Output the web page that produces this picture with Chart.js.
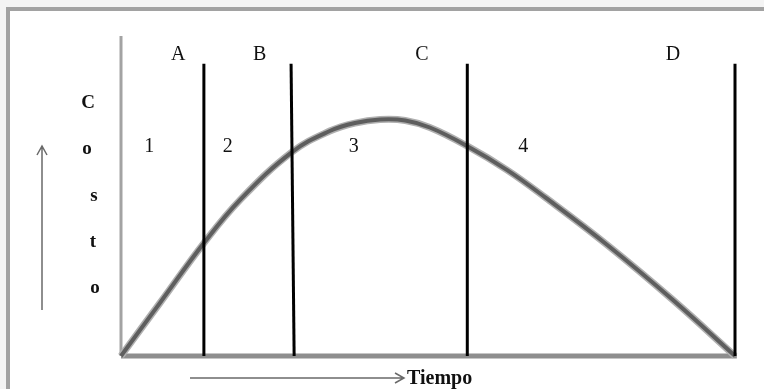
<!DOCTYPE html>
<html>
<head>
<meta charset="utf-8">
<script src="https://cdn.jsdelivr.net/npm/chart.js@4.4.1/dist/chart.umd.min.js"></script>
<style>
  html, body { margin: 0; padding: 0; background: #fff; }
  #grafico { display: block; }
</style>
</head>
<body>
<canvas id="grafico" width="764" height="389"></canvas>
<script>
// curva de costo vs tiempo
var tiempo = [0, 6.35, 13.5, 19.4, 27.9, 34.0, 38.1, 42.2, 46.3, 50.3, 56.2, 62.9, 69.2, 79.2, 89.9, 100];
var costo = [0, 16.6, 35.3, 48.8, 63.8, 70.3, 72.8, 73.9, 73.6, 71.4, 65.8, 58.1, 49.4, 34.7, 17.5, 0];

// lineas verticales que separan las etapas
var cortesAbajo = [13.5, 28.2, 56.4, 100];
var cortesArriba = [13.5, 27.7, 56.4, 100];
var alturaCorte = 91.3;

// letras de arriba y numeros de las etapas
var letras = ['A', 'B', 'C', 'D'];
var letrasX = [9.3, 22.6, 49.0, 89.9];
var letrasY = 94.1;
var etapas = ['1', '2', '3', '4'];
var etapasX = [4.6, 17.4, 37.9, 65.5];
var etapasY = 65.3;

// eje vertical escrito letra por letra
var tituloY = ['C', 'o', 's', 't', 'o'];
var tituloYPos = [79, 64.7, 50, 35.6, 21.3];
var tituloYx = [88, 87, 94, 93, 95];

var puntosCurva = tiempo.map(function (t, i) { return {x: t, y: costo[i]}; });

var datasets = [];
datasets.push({
    label: 'ejeY',
    data: [{x: 0, y: 0}, {x: 0, y: 100}],
    borderColor: '#a3a3a3',
    borderWidth: 3,
    order: 5
});
datasets.push({
    label: 'ejeX',
    data: [{x: 0, y: 0}, {x: 100.3, y: 0}],
    borderColor: '#8e8e8e',
    borderWidth: 5,
    order: 4
});
datasets.push({
    label: 'borde curva',
    data: puntosCurva,
    borderColor: '#b0b0b0',
    borderWidth: 7,
    tension: 0.4,
    order: 3
});
datasets.push({
    label: 'Costo',
    data: puntosCurva,
    borderColor: '#5e5e5e',
    borderWidth: 4,
    tension: 0.4,
    order: 2
});
for (var i = 0; i < cortesAbajo.length; i++) {
    datasets.push({
        label: 'corte ' + letras[i],
        data: [{x: cortesAbajo[i], y: 0}, {x: cortesArriba[i], y: alturaCorte}],
        borderColor: '#000',
        borderWidth: 3,
        order: 1
    });
}
datasets.forEach(function (d) {
    d.pointRadius = 0;
    d.fill = false;
    d.clip = false;
});

var textos = {
    id: 'textos',
    beforeDraw: function (chart) {
        var c = chart.ctx;
        c.save();
        c.fillStyle = '#f4f4f4';
        c.fillRect(0, 0, 764, 389);
        c.fillStyle = '#fff';
        c.fillRect(8, 9, 756, 380);
        c.strokeStyle = '#a2a2a2';
        c.lineWidth = 4;
        c.beginPath();
        c.moveTo(764, 9);
        c.lineTo(8, 9);
        c.lineTo(8, 389);
        c.stroke();
        c.restore();
    },
    afterDatasetsDraw: function (chart) {
        var c = chart.ctx;
        var sx = chart.scales.x, sy = chart.scales.y;
        c.save();
        c.fillStyle = '#111';
        c.textAlign = 'center';
        c.textBaseline = 'middle';
        c.font = '20px "Liberation Serif"';
        for (var i = 0; i < letras.length; i++) {
            c.fillText(letras[i], sx.getPixelForValue(letrasX[i]), sy.getPixelForValue(letrasY));
        }
        for (var j = 0; j < etapas.length; j++) {
            c.fillText(etapas[j], sx.getPixelForValue(etapasX[j]), sy.getPixelForValue(etapasY));
        }
        c.font = 'bold 19px "Liberation Serif"';
        for (var k = 0; k < tituloY.length; k++) {
            c.fillText(tituloY[k], tituloYx[k], sy.getPixelForValue(tituloYPos[k]));
        }
        // flechas
        c.strokeStyle = '#6a6a6a';
        c.lineWidth = 1.5;
        c.beginPath();
        c.moveTo(42, 310);
        c.lineTo(42, 146);
        c.moveTo(37, 155);
        c.lineTo(42, 146);
        c.lineTo(47, 155);
        c.moveTo(190, 378);
        c.lineTo(404, 378);
        c.moveTo(395, 373);
        c.lineTo(404, 378);
        c.lineTo(395, 383);
        c.stroke();
        c.textAlign = 'left';
        c.textBaseline = 'alphabetic';
        c.font = 'bold 20px "Liberation Serif"';
        c.fillText('Tiempo', 407, 384);
        c.restore();
    }
};

var ctx = document.getElementById('grafico').getContext('2d');
var grafico = new Chart(ctx, {
    type: 'line',
    data: { datasets: datasets },
    options: {
        responsive: false,
        animation: false,
        devicePixelRatio: 1,
        layout: { padding: { left: 121, right: 29, top: 36, bottom: 33 } },
        plugins: { legend: { display: false }, tooltip: { enabled: false } },
        scales: {
            x: { type: 'linear', min: 0, max: 100, display: false },
            y: { type: 'linear', min: 0, max: 100, display: false }
        }
    },
    plugins: [textos]
});
</script>
</body>
</html>
